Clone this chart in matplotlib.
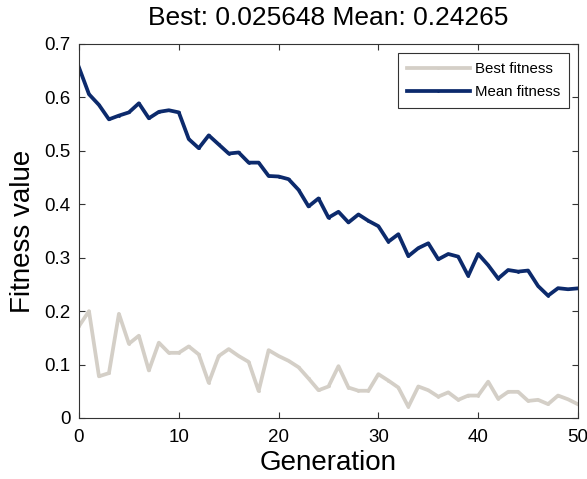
import matplotlib
matplotlib.use("Agg")
import matplotlib.pyplot as plt

plt.rcParams['font.family'] = ['Liberation Sans', 'DejaVu Sans']

generations = list(range(51))
best_fitness = [0.172, 0.200, 0.078, 0.084, 0.195, 0.139, 0.154, 0.089, 0.141, 0.122,
                0.122, 0.134, 0.119, 0.066, 0.116, 0.129, 0.116, 0.105, 0.0505, 0.127,
                0.116, 0.107, 0.095, 0.074, 0.052, 0.059, 0.097, 0.057, 0.051, 0.051,
                0.082, 0.070, 0.057, 0.021, 0.059, 0.052, 0.040, 0.048, 0.034, 0.042,
                0.042, 0.068, 0.036, 0.049, 0.049, 0.032, 0.034, 0.026, 0.042, 0.035,
                0.025648]
mean_fitness = [0.656, 0.606, 0.586, 0.559, 0.566, 0.572, 0.589, 0.561, 0.573, 0.576,
                0.572, 0.522, 0.505, 0.529, 0.512, 0.495, 0.497, 0.478, 0.478, 0.453,
                0.452, 0.447, 0.427, 0.396, 0.411, 0.375, 0.386, 0.366, 0.381, 0.369,
                0.359, 0.330, 0.344, 0.303, 0.318, 0.327, 0.297, 0.307, 0.302, 0.266,
                0.307, 0.286, 0.261, 0.277, 0.274, 0.276, 0.247, 0.229, 0.243, 0.241,
                0.24265]
x_ticks = [0, 10, 20, 30, 40, 50]
y_ticks = [0, 0.1, 0.2, 0.3, 0.4, 0.5, 0.6, 0.7]
y_tick_labels = ['0', '0.1', '0.2', '0.3', '0.4', '0.5', '0.6', '0.7']

fig = plt.figure(figsize=(5.87, 4.79), dpi=100)
ax = fig.add_axes([79/587, 61/479, 499/587, 374/479])

ax.plot(generations, best_fitness, color='#d4cfc7', lw=2.7, marker='.', markersize=2,
        label='Best fitness')
ax.plot(generations, mean_fitness, color='#0c2a6c', lw=2.7, marker='.', markersize=2,
        label='Mean fitness')

ax.set_xlim(0, 50)
ax.set_ylim(0, 0.7)
ax.set_xticks(x_ticks)
ax.set_yticks(y_ticks)
ax.set_yticklabels(y_tick_labels)
ax.tick_params(direction='in', length=4, width=0.8, top=True, right=True,
               labelsize=13.5, colors='#333333', labelcolor='black')
ax.tick_params(axis='x', pad=8)
ax.tick_params(axis='y', pad=6)
for s in ax.spines.values():
    s.set_color('#333333')
    s.set_linewidth(0.8)

ax.set_title('Best: 0.025648 Mean: 0.24265', fontsize=19, pad=14)
ax.set_xlabel('Generation', fontsize=20, labelpad=3)
ax.set_ylabel('Fitness value', fontsize=20, labelpad=6)

leg = ax.legend(loc='upper right', bbox_to_anchor=(490/499, 365/374), borderaxespad=0,
                fontsize=10.8, handlelength=4.2, handletextpad=0.35, labelspacing=0.6,
                frameon=True, fancybox=False, borderpad=0.6, numpoints=1)
leg.get_frame().set_edgecolor('black')
leg.get_frame().set_linewidth(0.8)

fig.savefig('out.png', dpi=100)
